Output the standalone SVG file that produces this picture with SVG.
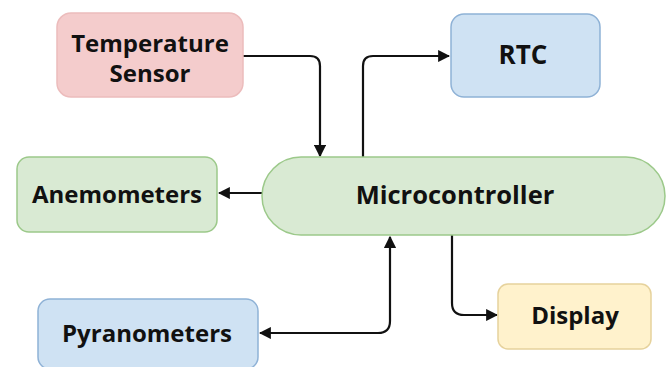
<svg xmlns="http://www.w3.org/2000/svg" width="670" height="367" viewBox="0 0 670 367">
  <style>
    .lbl { font-family: "Open Sans", "Liberation Sans", sans-serif; font-weight: 700; font-size: 24px; fill: #111111; text-anchor: middle; }
    .big { font-size: 25.5px; }
    .cap { font-size: 26px; }
    .pink { fill: #f4cccc; stroke: #ecbcbc; stroke-width: 1.5; }
    .green { fill: #d9ead3; stroke: #9cc98a; stroke-width: 1.5; }
    .blue { fill: #cfe2f3; stroke: #8fb2d6; stroke-width: 1.5; }
    .yellow { fill: #fff2cc; stroke: #e6d29c; stroke-width: 1.5; }
    .wire { fill: none; stroke: #111111; stroke-width: 2.2; }
  </style>
  <defs>
    <marker id="arrow" viewBox="0 0 10 10" refX="9" refY="5" markerWidth="5.5" markerHeight="5.5" orient="auto-start-reverse" markerUnits="strokeWidth">
      <path d="M0,0 L10,5 L0,10 z" fill="#111111"/>
    </marker>
  </defs>
  <rect width="670" height="367" fill="#ffffff"/>

  <g id="connectors">
    <!-- Temperature Sensor -> Microcontroller -->
    <path class="wire" d="M243,56 H310 Q320,56 320,66 V156" marker-end="url(#arrow)"/>
    <!-- Microcontroller -> RTC -->
    <path class="wire" d="M363,157 V66 Q363,56 373,56 H449" marker-end="url(#arrow)"/>
    <!-- Microcontroller -> Anemometers -->
    <path class="wire" d="M262,193 H219" marker-end="url(#arrow)"/>
    <!-- Pyranometers <-> Microcontroller -->
    <path class="wire" d="M260,333 H378 Q390,333 390,321 V237" marker-start="url(#arrow)" marker-end="url(#arrow)"/>
    <!-- Microcontroller -> Display -->
    <path class="wire" d="M452,235 V303 Q452,315 464,315 H497" marker-end="url(#arrow)"/>
  </g>

  <g id="temperature-sensor">
    <rect class="pink" x="57" y="13" width="186" height="84" rx="14"/>
    <text class="lbl" x="150" y="52">Temperature</text>
    <text class="lbl" x="150" y="82">Sensor</text>
  </g>

  <g id="rtc">
    <rect class="blue" x="451" y="14" width="149" height="83" rx="13"/>
    <text class="lbl cap" x="523" y="64">RTC</text>
  </g>

  <g id="anemometers">
    <rect class="green" x="17" y="157" width="200" height="75" rx="12"/>
    <text class="lbl" x="117" y="203">Anemometers</text>
  </g>

  <g id="microcontroller">
    <rect class="green" x="262" y="157" width="403" height="78" rx="39"/>
    <text class="lbl big" x="455" y="204">Microcontroller</text>
  </g>

  <g id="pyranometers">
    <rect class="blue" x="38" y="299" width="220" height="70" rx="12"/>
    <text class="lbl" x="147" y="342">Pyranometers</text>
  </g>

  <g id="display">
    <rect class="yellow" x="498" y="284" width="153" height="65" rx="10"/>
    <text class="lbl" x="575" y="324">Display</text>
  </g>
</svg>
